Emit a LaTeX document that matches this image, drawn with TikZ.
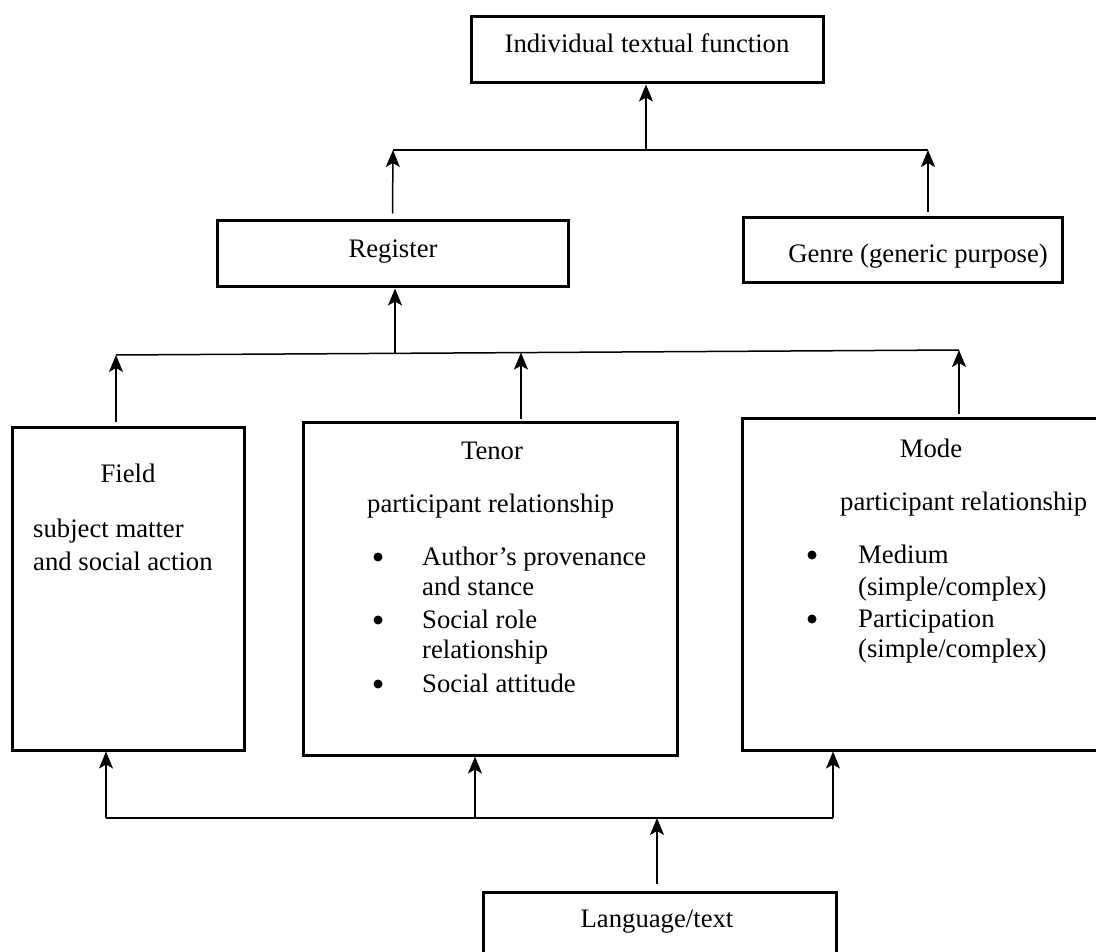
\documentclass[tikz,border=0pt]{standalone}
\usepackage{fontspec}
\setmainfont{Liberation Serif}
\usetikzlibrary{arrows.meta,calc}
\begin{document}
\begin{tikzpicture}[x=1pt,y=-1pt,
  box/.style={draw, line width=3pt, inner sep=0pt},
  conn/.style={line width=1.5pt},
  arr/.style={line width=1.5pt, -{Stealth[length=17pt,width=14pt,inset=4pt]}},
  lbl/.style={anchor=base, inner sep=0pt, font=\fontsize{26.7}{33}\selectfont},
  lbw/.style={lbl, anchor=base west},
  dot/.style={circle, fill, inner sep=0pt, minimum size=9pt}]
\useasboundingbox (0,0) rectangle (1096,952);
\clip (0,0) rectangle (1096,952);

% boxes
\node[box, minimum width=352pt, minimum height=66pt] (top) at (647,50) {};
\node[box, minimum width=351pt, minimum height=66pt] (reg) at (392.5,254) {};
\node[box, minimum width=319pt, minimum height=65pt] (gen) at (902.5,250.5) {};
\node[box, minimum width=232pt, minimum height=323pt] (fld) at (128,588.5) {};
\node[box, minimum width=374pt, minimum height=333pt] (ten) at (490,588.5) {};
\node[box, minimum width=378pt, minimum height=332pt] (mod) at (931,584) {};
\node[box, minimum width=353pt, minimum height=88pt] (lang) at (659.5,936) {};

% box texts
\node[lbl] (ttop) at (647,53) {Individual textual function};
\node[lbl] (treg) at (393,258) {Register};
\node[lbl] (tgen) at (918,263) {Genre (generic purpose)};
\node[lbl] (tfld) at (128,482) {Field};
\node[lbw] (f1) at (33,537) {subject matter};
\node[lbw] (f2) at (33,570) {and social action};
\node[lbl] (tten) at (492,459) {Tenor};
\node[lbw] (t0) at (367,512) {participant relationship};
\node[dot] (tb1) at (378,557) {};
\node[dot] (tb2) at (378,620) {};
\node[dot] (tb3) at (378,684) {};
\node[lbw] (t1) at (422,565) {Author’s provenance};
\node[lbw] (t2) at (422,595) {and stance};
\node[lbw] (t3) at (422,628) {Social role};
\node[lbw] (t4) at (422,658) {relationship};
\node[lbw] (t5) at (422,692) {Social attitude};
\node[lbl] (tmod) at (931,457) {Mode};
\node[lbw] (m0) at (840,510) {participant relationship};
\node[dot] (mb1) at (812,555) {};
\node[dot] (mb2) at (812,619) {};
\node[lbw] (m1) at (858,563) {Medium};
\node[lbw] (m2) at (858,595) {(simple/complex)};
\node[lbw] (m3) at (858,627) {Participation};
\node[lbw] (m4) at (858,657) {(simple/complex)};
\node[lbl] (tlang) at (657,927) {Language/text};

% upper level: register and genre feed the textual function
\coordinate (tl) at (393,150);
\coordinate (tr) at (928,150);
\coordinate (tm) at (646,150);
\draw[conn] (tl) -- (tr);
\draw[arr] (tm) -- (tm |- top.south);
\draw[arr] ([yshift=6pt]reg.north) -- (tl);
\path (gen.north -| tr) ++(0,-4) coordinate (gup);
\draw[arr] (gup) -- (tr);

% middle level: field, tenor and mode feed the register
\coordinate (ml) at (116,355);
\coordinate (mr) at (959,350);
\coordinate (mreg) at ($(ml)!0.331!(mr)$);
\coordinate (mten) at ($(ml)!0.4804!(mr)$);
\draw[conn] (ml) -- (mr);
\draw[arr] (mreg) -- (mreg |- reg.south);
\path (fld.north -| ml) ++(0,-4) coordinate (fup);
\draw[arr] (fup) -- (ml);
\path (ten.north -| mten) ++(0,-2) coordinate (tup);
\draw[arr] (tup) -- (mten);
\path (mod.north -| mr) ++(0,-3) coordinate (mup);
\draw[arr] (mup) -- (mr);

% lower level: language/text feeds the three variables
\coordinate (bl) at (106,818);
\coordinate (br) at (833,818);
\coordinate (bm) at (475,818);
\coordinate (bc) at (657,818);
\draw[conn] (bl) -- (br);
\draw[arr] (bl) -- (bl |- fld.south);
\draw[arr] (bm) -- (bm |- ten.south);
\draw[arr] (br) -- (br |- mod.south);
\path (lang.north -| bc) ++(0,-7) coordinate (lup);
\draw[arr] (lup) -- (bc);
\end{tikzpicture}
\end{document}
